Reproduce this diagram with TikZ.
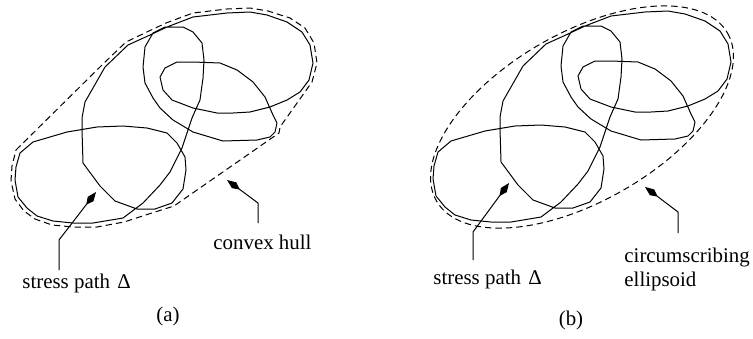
\documentclass[tikz,border=0pt]{standalone}
\usepackage{fontspec}
\setmainfont{Liberation Serif}
\usetikzlibrary{arrows.meta}
\tikzset{
  pathline/.style={line width=0.5pt, line join=round},
  hullline/.style={line width=0.5pt, dash pattern=on 3.2pt off 2pt, line join=round},
  conn/.style={line width=0.5pt, -{Kite[length=8pt,width=3.6pt,inset=3.6pt]}},
  lbl/.style={inner sep=0pt, font=\fontsize{10.45}{12}\selectfont},
  pics/stresspath/.style={code={
    \draw[pathline] (123,218) -- (93,223) -- (73,223) -- (53,221) -- (37,216) -- (27,208)
      -- (18,197) -- (15,180) -- (16,167) -- (20,153) -- (33,142) -- (67,132) -- (97,127)
      -- (123,126) -- (147,128) -- (167,133) -- (177,143) -- (185,157) -- (186,170)
      -- (183,189) -- (172,203) -- (155,209) -- (137,209) -- (115,201) -- (100,186)
      -- (83,163) -- (82,130) -- (82,118) -- (85,102) -- (105,67) -- (128,45) -- (150,35)
      -- (167,27) -- (193,17) -- (227,13) -- (250,12) -- (267,15) -- (287,22) -- (302,32)
      -- (310,45) -- (313,63) -- (309,80) -- (300,92) -- (287,100) -- (270,107) -- (250,112)
      -- (233,113) -- (217,113) -- (193,108) -- (172,100) -- (163,90) -- (160,77) -- (165,68)
      -- (177,62) -- (193,62) -- (220,63) -- (237,70) -- (253,82) -- (265,97) -- (273,115)
      -- (277,123) -- (275,132) -- (270,137) -- (257,140) -- (223,141) -- (193,132)
      -- (173,120) -- (160,108) -- (153,98) -- (145,83) -- (143,67) -- (145,47) -- (153,33)
      -- (165,27) -- (183,27) -- (193,32) -- (202,43) -- (204,60) -- (203,78) -- (200,100)
      -- (192,118) -- (182,148) -- (170,172) -- (160,185) -- (143,203) -- cycle;
  }}
}
\begin{document}
\begin{tikzpicture}[x=0.5pt, y=-0.5pt]
\useasboundingbox (0,0) rectangle (753,338);

% panel (a)
\pic at (0,0) {stresspath};
\draw[hullline] (16,150) -- (103,64) -- (126,42) -- (149,31) -- (166,23) -- (193,13)
  -- (227,9) -- (250,8) -- (268,11) -- (290,18) -- (305,28) -- (314,43) -- (317,63)
  -- (312,82) -- (280,127) -- (279,133) -- (174,206) -- (155,212) -- (124,222)
  -- (97,227) -- (73,227) -- (52,225) -- (35,219) -- (24,211) -- (15,199) -- (11,181)
  -- (12,166) -- cycle;

\node[lbl, anchor=base west] (lblA) at (22,288) {stress path\hspace{0.35em}Δ};
\node[lbl, anchor=base west] (hull) at (213,249) {convex hull};
\node[lbl, anchor=base] (capA) at (168,321) {(a)};

\coordinate (footA) at (59,270);
\coordinate (bendA) at (59,240);
\coordinate (tipA) at (96,192);
\draw[conn] (footA) -- (bendA) -- (tipA);

\coordinate (footH) at (258,223);
\coordinate (bendH) at (258,203);
\coordinate (tipH) at (227,180);
\draw[conn] (footH) -- (bendH) -- (tipH);

% panel (b)
\pic at (418,-1) {stresspath};
\draw[hullline, shift={(582,117)}, rotate=30] (0,0) ellipse [x radius=168, y radius=84];

\node[lbl, anchor=base west] (lblB) at (433,284) {stress path\hspace{0.35em}Δ};
\node[lbl, anchor=north west, align=left] (ell) at (624,248) {circumscribing\\ellipsoid};
\node[lbl, anchor=base] (capB) at (571,325) {(b)};

\coordinate (footB) at (473,260);
\coordinate (bendB) at (473,232);
\coordinate (tipB) at (509,183);
\draw[conn] (footB) -- (bendB) -- (tipB);

\coordinate (footE) at (678,233);
\coordinate (bendE) at (678,212);
\coordinate (tipE) at (645,187);
\draw[conn] (footE) -- (bendE) -- (tipE);
\end{tikzpicture}
\end{document}
